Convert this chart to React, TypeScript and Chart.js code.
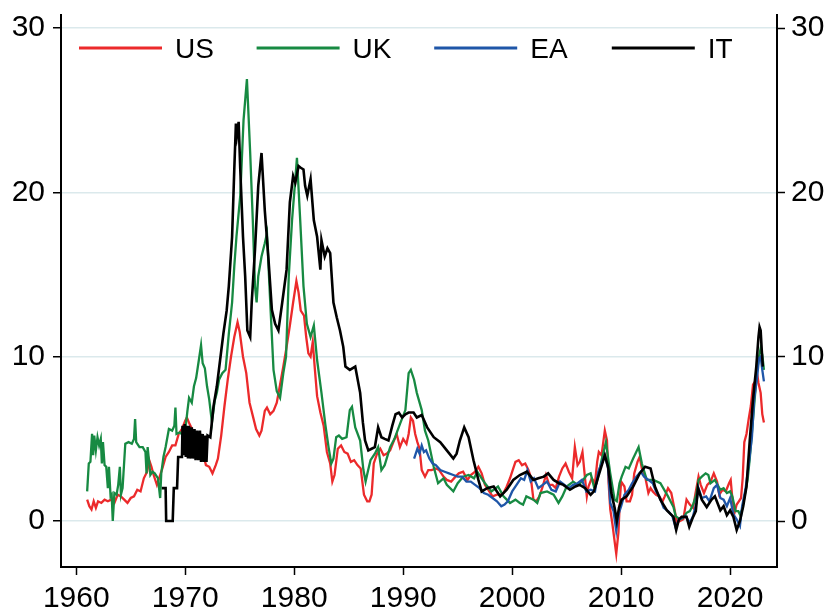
import React, { useEffect, useRef } from "react";
import { Chart, registerables } from "chart.js";

Chart.register(...registerables);

const SERIES_LABELS = ["US", "UK", "EA", "IT"];
const SERIES_COLORS = ["#ec2a2b", "#178a42", "#1f56a8", "#000000"];
const X_TICKS = [1960, 1970, 1980, 1990, 2000, 2010, 2020];
const Y_TICKS = [0, 10, 20, 30];

const US_X = [1961.0,1961.2,1961.4,1961.6,1961.8,1962.0,1962.3,1962.6,1962.9,1963.2,1963.5,1963.8,1964.1,1964.4,1964.7,1965.0,1965.3,1965.6,1965.9,1966.2,1966.5,1966.7,1966.9,1967.1,1967.4,1967.7,1967.9,1968.2,1968.5,1968.8,1969.1,1969.4,1969.7,1970.0,1970.15,1970.4,1970.7,1971.0,1971.3,1971.6,1971.9,1972.2,1972.5,1972.8,1973.0,1973.3,1973.6,1973.9,1974.2,1974.5,1974.8,1975.0,1975.3,1975.6,1975.9,1976.2,1976.5,1976.8,1977.0,1977.3,1977.5,1977.8,1978.1,1978.4,1978.7,1979.0,1979.3,1979.6,1979.9,1980.2,1980.4,1980.6,1980.9,1981.1,1981.3,1981.5,1981.7,1981.9,1982.1,1982.4,1982.7,1983.0,1983.3,1983.5,1983.7,1984.0,1984.3,1984.6,1984.9,1985.2,1985.5,1985.8,1986.1,1986.4,1986.7,1986.9,1987.1,1987.3,1987.6,1987.9,1988.2,1988.5,1988.8,1989.1,1989.4,1989.7,1990.0,1990.3,1990.5,1990.7,1990.9,1991.1,1991.3,1991.5,1991.7,1992.0,1992.3,1992.6,1993.0,1993.3,1993.7,1994.0,1994.4,1994.8,1995.1,1995.5,1995.9,1996.2,1996.6,1996.9,1997.2,1997.5,1997.9,1998.2,1998.6,1998.9,1999.2,1999.5,1999.8,2000.1,2000.3,2000.6,2000.9,2001.2,2001.5,2001.7,2001.95,2002.2,2002.5,2002.8,2003.1,2003.4,2003.7,2004.0,2004.3,2004.6,2004.9,2005.2,2005.5,2005.75,2006.0,2006.2,2006.45,2006.7,2006.85,2007.0,2007.3,2007.6,2007.8,2007.95,2008.2,2008.5,2008.7,2008.85,2009.0,2009.2,2009.45,2009.55,2009.75,2009.9,2010.0,2010.3,2010.5,2010.8,2011.0,2011.2,2011.5,2011.7,2011.9,2012.2,2012.5,2012.7,2012.9,2013.2,2013.5,2013.8,2014.0,2014.3,2014.6,2014.9,2015.1,2015.4,2015.7,2016.0,2016.3,2016.6,2016.8,2017.1,2017.3,2017.6,2017.9,2018.2,2018.5,2018.8,2019.0,2019.3,2019.6,2019.9,2020.05,2020.2,2020.4,2020.6,2020.8,2021.0,2021.15,2021.3,2021.5,2021.7,2021.9,2022.1,2022.3,2022.45,2022.6,2022.8,2022.95,2023.1];
const US_Y = [1.3,0.9,0.7,1.2,0.8,1.2,1.1,1.3,1.2,1.3,1.1,1.6,1.5,1.3,1.1,1.4,1.5,1.9,1.8,2.6,3.0,3.7,3.3,2.8,2.2,2.8,3.2,3.9,4.2,4.6,4.6,5.3,5.6,6.1,6.3,5.9,5.5,5.1,4.4,4.2,3.4,3.3,2.9,3.4,3.8,5.2,7.0,8.6,10.0,11.2,12.1,11.5,10.0,9.0,7.2,6.4,5.6,5.2,5.5,6.7,6.9,6.5,6.7,7.2,8.3,9.4,10.6,11.9,13.3,14.6,13.9,12.8,12.5,11.2,10.2,10.0,10.9,9.2,7.6,6.6,5.8,4.2,3.5,2.4,2.8,4.4,4.6,4.2,4.1,3.6,3.7,3.4,3.2,1.6,1.2,1.2,1.6,3.5,4.1,4.4,4.0,4.1,4.3,4.8,5.3,4.5,5.0,4.7,5.3,6.3,6.1,5.3,4.8,4.4,3.1,2.7,3.1,3.1,3.2,3.1,2.7,2.5,2.4,2.7,2.9,3.0,2.5,2.8,3.0,3.3,2.9,2.2,1.8,1.5,1.6,1.6,1.7,2.1,2.6,3.2,3.6,3.7,3.4,3.5,3.1,2.7,1.3,1.2,1.5,2.1,2.8,2.2,2.2,2.0,2.7,3.2,3.5,3.0,2.6,4.5,3.4,3.6,4.2,2.5,1.5,2.1,2.6,2.3,3.6,4.2,4.0,5.5,4.9,2.3,0.7,-0.2,-1.5,-2.0,-0.7,1.5,2.4,2.1,1.2,1.2,1.6,2.9,3.6,3.9,3.2,2.7,1.7,2.0,1.8,1.6,1.5,1.2,1.5,2.0,1.7,0.7,-0.1,0.0,0.1,1.3,1.0,0.8,1.6,2.7,2.2,1.7,2.2,2.4,2.9,2.4,1.6,1.9,1.8,2.3,2.5,1.4,0.5,1.0,1.2,1.4,2.6,4.8,5.3,6.2,7.0,8.3,8.5,9.1,8.4,7.8,6.5,6.0];

const UK_X = [1961.0,1961.15,1961.3,1961.45,1961.55,1961.65,1961.8,1961.95,1962.1,1962.25,1962.35,1962.45,1962.6,1962.75,1962.9,1963.0,1963.15,1963.25,1963.35,1963.5,1963.7,1963.85,1964.0,1964.1,1964.25,1964.5,1964.8,1965.1,1965.3,1965.4,1965.5,1965.8,1966.1,1966.35,1966.45,1966.55,1966.7,1966.8,1967.0,1967.2,1967.5,1967.7,1967.8,1968.0,1968.2,1968.5,1968.8,1969.0,1969.1,1969.2,1969.5,1969.8,1970.0,1970.2,1970.35,1970.6,1970.8,1971.0,1971.25,1971.45,1971.6,1971.8,1972.0,1972.2,1972.45,1972.7,1972.9,1973.1,1973.4,1973.7,1974.0,1974.3,1974.5,1974.7,1975.05,1975.35,1975.66,1975.96,1976.2,1976.4,1976.55,1976.7,1977.0,1977.3,1977.5,1977.8,1978.1,1978.4,1978.7,1979.0,1979.25,1979.5,1979.8,1980.1,1980.25,1980.55,1980.85,1981.16,1981.5,1981.8,1982.1,1982.5,1982.85,1983.15,1983.4,1983.6,1983.85,1984.1,1984.4,1984.8,1985.1,1985.3,1985.6,1986.05,1986.35,1986.55,1986.75,1987.0,1987.4,1987.7,1988.0,1988.3,1988.8,1989.2,1989.7,1990.2,1990.5,1990.7,1991.0,1991.25,1991.7,1992.0,1992.3,1992.8,1993.2,1993.7,1994.0,1994.6,1995.0,1995.5,1996.0,1996.5,1996.8,1997.2,1997.5,1998.1,1998.7,1999.2,1999.8,2000.3,2000.7,2001.0,2001.3,2001.95,2002.3,2002.6,2003.2,2003.8,2004.25,2004.6,2005.0,2005.6,2006.0,2006.4,2006.85,2007.2,2007.5,2007.75,2008.2,2008.6,2009.0,2009.4,2009.6,2009.85,2010.05,2010.4,2010.7,2011.1,2011.6,2011.9,2012.35,2012.96,2013.6,2014.3,2014.8,2015.0,2015.4,2015.7,2016.0,2016.3,2016.6,2016.9,2017.1,2017.4,2017.75,2018.0,2018.2,2018.6,2019.1,2019.4,2019.7,2020.0,2020.2,2020.5,2020.75,2020.9,2021.1,2021.35,2021.6,2021.8,2022.0,2022.2,2022.45,2022.65,2022.8,2022.95,2023.1];
const UK_Y = [1.8,3.5,3.6,5.3,4.0,5.2,4.3,5.1,4.6,5.0,3.5,4.8,3.4,3.3,2.0,3.3,1.5,1.6,0.0,1.7,1.6,2.2,3.3,1.6,2.0,4.7,4.8,4.7,5.0,6.2,4.8,4.5,4.5,4.2,2.9,4.5,3.5,2.8,3.0,2.9,2.6,1.4,2.9,3.9,4.5,5.6,5.5,5.8,6.9,5.3,5.4,5.2,5.5,6.7,7.5,7.2,8.2,8.7,9.8,10.7,9.6,9.3,8.2,7.4,6.0,7.3,7.8,8.6,9.0,9.2,11.4,13.3,15.5,17.3,19.8,24.4,26.9,22.4,18.3,14.3,13.3,14.9,16.1,16.9,17.5,13.3,9.2,7.9,7.5,9.0,10.0,14.9,18.3,20.8,22.1,18.3,14.3,12.0,11.2,11.9,9.8,7.8,5.9,4.5,3.5,3.8,5.1,5.2,5.0,5.1,6.75,6.95,5.7,4.9,3.1,2.4,3.0,3.7,4.1,4.5,3.1,3.4,4.5,5.0,5.9,6.75,9.0,9.2,8.6,7.8,6.75,5.5,4.9,3.3,2.3,2.6,2.2,1.8,2.3,2.7,2.8,2.6,3.0,2.6,2.3,1.8,2.1,1.5,1.1,1.3,1.1,1.0,1.5,1.3,1.1,1.7,1.8,1.6,1.1,1.5,2.1,2.4,2.2,2.4,2.8,2.9,2.1,2.3,3.7,4.8,2.9,1.3,1.2,2.3,2.7,3.3,3.2,3.8,4.5,3.5,2.5,2.5,2.3,1.5,0.85,0.3,0.1,0.2,0.5,0.6,1.0,1.6,2.5,2.7,2.9,2.8,2.3,2.5,1.9,2.0,1.7,1.8,1.5,0.6,0.6,0.4,0.7,1.6,2.5,3.8,5.4,7.0,9.0,10.0,10.5,10.1,9.2];

const EA_X = [1991.0,1991.1,1991.3,1991.5,1991.7,1991.9,1992.1,1992.4,1992.7,1993.0,1993.4,1993.8,1994.2,1994.6,1995.0,1995.4,1995.8,1996.2,1996.6,1997.0,1997.4,1997.8,1998.2,1998.6,1999.0,1999.3,1999.6,2000.0,2000.4,2000.8,2001.1,2001.4,2001.7,2002.0,2002.4,2002.8,2003.2,2003.6,2004.0,2004.4,2004.8,2005.2,2005.6,2006.0,2006.4,2006.8,2007.2,2007.6,2007.9,2008.2,2008.5,2008.8,2009.0,2009.3,2009.55,2009.8,2010.0,2010.3,2010.7,2011.0,2011.4,2011.8,2012.1,2012.5,2012.9,2013.2,2013.5,2013.9,2014.3,2014.7,2015.0,2015.3,2015.6,2015.9,2016.3,2016.6,2016.9,2017.1,2017.4,2017.8,2018.1,2018.5,2018.8,2019.1,2019.4,2019.7,2020.0,2020.3,2020.6,2020.9,2021.1,2021.4,2021.7,2022.0,2022.2,2022.45,2022.65,2022.8,2022.95,2023.1];
const EA_Y = [3.8,4.0,4.4,4.1,4.6,4.2,4.3,3.8,3.5,3.4,3.1,3.0,2.9,2.8,2.7,2.7,2.4,2.4,2.2,2.0,1.7,1.6,1.4,1.2,0.9,1.0,1.2,1.8,2.2,2.6,2.5,3.1,2.4,2.6,2.0,2.2,2.4,1.9,1.8,2.4,2.2,2.0,2.2,2.3,2.5,1.8,1.9,1.8,3.0,3.5,4.0,3.2,1.1,0.6,-0.6,0.5,0.9,1.6,1.9,2.3,2.7,3.0,2.7,2.5,2.3,1.8,1.5,0.8,0.6,0.3,-0.4,0.1,0.2,0.3,-0.1,0.3,1.1,2.0,1.4,1.5,1.2,2.0,2.2,1.4,1.3,0.9,1.4,0.4,0.1,-0.3,0.9,1.9,3.4,5.1,7.4,8.6,9.9,10.0,9.2,8.5];

const IT_X = [1967.85,1968.2,1968.25,1968.85,1968.95,1969.25,1969.35,1969.7,1969.75,1969.85,1969.95,1970.05,1970.15,1970.25,1970.35,1970.45,1970.6,1970.7,1970.85,1970.95,1971.1,1971.2,1971.35,1971.45,1971.6,1971.7,1971.85,1971.95,1972.05,1972.3,1972.6,1972.9,1973.2,1973.5,1973.8,1974.0,1974.3,1974.5,1974.65,1974.75,1974.9,1975.05,1975.3,1975.5,1975.7,1975.96,1976.1,1976.4,1976.7,1977.0,1977.3,1977.6,1977.95,1978.25,1978.55,1978.9,1979.3,1979.6,1979.9,1980.1,1980.4,1980.6,1980.85,1981.0,1981.2,1981.5,1981.8,1982.1,1982.4,1982.5,1982.8,1983.05,1983.3,1983.6,1983.9,1984.2,1984.5,1984.7,1985.1,1985.6,1986.05,1986.3,1986.5,1986.8,1987.1,1987.4,1987.7,1988.0,1988.3,1988.65,1989.0,1989.3,1989.6,1989.9,1990.2,1990.5,1990.95,1991.25,1991.7,1992.2,1992.8,1993.4,1994.0,1994.6,1994.9,1995.2,1995.6,1996.0,1996.45,1996.9,1997.2,1997.7,1998.3,1998.9,1999.5,2000.1,2000.7,2001.35,2001.95,2002.4,2002.9,2003.3,2003.8,2004.3,2004.7,2005.3,2005.8,2006.2,2006.7,2007.2,2007.5,2007.9,2008.5,2008.8,2009.1,2009.4,2009.6,2009.8,2010.05,2010.5,2011.1,2011.7,2012.2,2012.7,2013.1,2013.6,2014.2,2014.8,2015.05,2015.3,2015.55,2016.0,2016.25,2016.6,2016.85,2017.05,2017.4,2017.85,2018.3,2018.6,2019.1,2019.4,2019.7,2020.0,2020.3,2020.6,2020.9,2021.2,2021.5,2021.8,2022.1,2022.4,2022.6,2022.7,2022.8,2022.9,2023.0];
const IT_Y = [2.0,2.0,0.0,0.0,2.0,2.0,3.9,3.9,5.8,4.0,5.9,3.9,5.8,3.8,5.8,3.8,5.7,3.8,5.6,3.7,5.5,3.7,5.5,3.6,5.3,3.6,5.2,3.6,5.2,5.1,7.0,8.2,9.8,11.4,12.8,14.3,17.3,21.4,24.2,23.5,24.3,21.4,17.3,14.9,11.6,11.2,13.3,16.5,20.4,22.4,18.9,16.3,12.85,12.0,11.6,13.3,15.3,19.4,21.0,20.6,21.6,21.5,21.4,20.4,19.8,20.8,18.3,17.3,15.3,17.1,16.1,16.6,16.3,13.3,12.4,11.6,10.6,9.4,9.2,9.4,7.8,6.0,4.9,4.3,4.4,4.5,5.7,5.1,5.0,4.9,5.8,6.5,6.6,6.3,6.5,6.6,6.6,6.3,6.45,5.7,5.1,4.8,4.3,3.8,4.1,4.9,5.7,5.1,3.7,2.5,1.8,2.0,2.1,1.5,1.9,2.5,2.8,3.0,2.5,2.6,2.7,2.9,2.5,2.3,2.2,1.9,2.1,2.2,2.0,1.6,1.8,2.7,4.0,3.3,1.7,0.8,0.0,0.8,1.3,1.5,2.1,2.9,3.3,3.2,2.1,1.3,0.65,0.25,-0.55,0.1,0.25,0.25,-0.35,0.25,0.6,2.0,1.3,0.85,1.3,1.5,0.65,0.9,0.35,0.65,0.25,-0.55,0.0,0.9,2.1,4.9,7.4,9.4,11.2,11.8,11.6,10.4,9.4];

const SERIES_X = [US_X, UK_X, EA_X, IT_X];
const SERIES_Y = [US_Y, UK_Y, EA_Y, IT_Y];

const FONT_FAMILY = '"Liberation Sans", Arial, sans-serif';

const insideLegend = {
  id: "insideLegend",
  afterDatasetsDraw(chart: any) {
    const { ctx, chartArea } = chart;
    ctx.save();
    chart.data.datasets.forEach((ds: any, i: number) => {
      const x0 = chartArea.left + 18 + i * 177.6;
      const y = chartArea.top + 33;
      ctx.strokeStyle = ds.borderColor;
      ctx.lineWidth = 3;
      ctx.beginPath();
      ctx.moveTo(x0, y);
      ctx.lineTo(x0 + 83, y);
      ctx.stroke();
      ctx.fillStyle = "#000";
      ctx.font = `28px ${FONT_FAMILY}`;
      ctx.textBaseline = "alphabetic";
      ctx.textAlign = "left";
      ctx.fillText(ds.label, x0 + 96, chartArea.top + 43);
    });
    ctx.restore();
  },
};

const zeroPad = (s: any) => {
  s.paddingTop = 0;
  s.paddingBottom = 0;
  s.paddingLeft = 0;
  s.paddingRight = 0;
};

export default function App() {
  const ref = useRef<HTMLCanvasElement | null>(null);

  useEffect(() => {
    if (!ref.current) return;
    const tickFont = { family: FONT_FAMILY, size: 30 };
    const datasets = SERIES_LABELS.map((label, i) => ({
      label,
      data: SERIES_X[i].map((x, j) => ({ x, y: SERIES_Y[i][j] })),
      borderColor: SERIES_COLORS[i],
      backgroundColor: SERIES_COLORS[i],
      borderWidth: i === 3 ? 2.6 : 2.3,
      pointRadius: 0,
      tension: 0,
      fill: false,
      order: 3 - i,
    }));
    const chart = new Chart(ref.current, {
      type: "line",
      data: { datasets },
      plugins: [insideLegend],
      options: {
        animation: false,
        responsive: false,
        layout: { padding: { top: 15, left: 0, right: 0, bottom: 0 } },
        plugins: { legend: { display: false }, tooltip: { enabled: false } },
        scales: {
          x: {
            type: "linear",
            min: 1958.6,
            max: 2024.3,
            afterBuildTicks: (s: any) => {
              s.ticks = X_TICKS.map((v) => ({ value: v }));
            },
            afterFit: (s: any) => {
              s.height = 43;
              zeroPad(s);
            },
            grid: {
              display: true,
              drawOnChartArea: false,
              drawTicks: true,
              tickLength: 8,
              tickColor: "#000",
              tickWidth: 1.5,
            },
            border: { display: true, color: "#000", width: 2 },
            ticks: {
              color: "#000",
              font: tickFont,
              padding: 6,
              maxRotation: 0,
              autoSkip: false,
              callback: (v: any) => String(v),
            },
          },
          y: {
            type: "linear",
            position: "left",
            min: -2.8,
            max: 30.8,
            afterBuildTicks: (s: any) => {
              s.ticks = Y_TICKS.map((v) => ({ value: v }));
            },
            afterFit: (s: any) => {
              s.width = 61;
              zeroPad(s);
            },
            grid: {
              display: true,
              drawOnChartArea: true,
              color: "#dbe9ec",
              lineWidth: 1.5,
              drawTicks: true,
              tickLength: 8,
              tickColor: "#000",
              tickWidth: 1.5,
            },
            border: { display: true, color: "#000", width: 2 },
            ticks: {
              color: "#000",
              font: tickFont,
              padding: 8,
              callback: (v: any) => String(v),
            },
          },
          y2: {
            type: "linear",
            position: "right",
            min: -2.8,
            max: 30.8,
            afterBuildTicks: (s: any) => {
              s.ticks = Y_TICKS.map((v) => ({ value: v }));
            },
            afterFit: (s: any) => {
              s.width = 52;
              zeroPad(s);
            },
            grid: {
              display: true,
              drawOnChartArea: false,
              drawTicks: true,
              tickLength: 8,
              tickColor: "#000",
              tickWidth: 1.5,
            },
            border: { display: true, color: "#000", width: 2 },
            ticks: {
              color: "#000",
              font: tickFont,
              padding: 6,
              callback: (v: any) => String(v),
            },
          },
        },
      },
    });
    return () => chart.destroy();
  }, []);

  return (
    <div style={{ position: "absolute", left: 0, top: 0, width: 829, height: 610, background: "#fff" }}>
      <canvas ref={ref} width={829} height={610} style={{ display: "block" }} />
    </div>
  );
}
